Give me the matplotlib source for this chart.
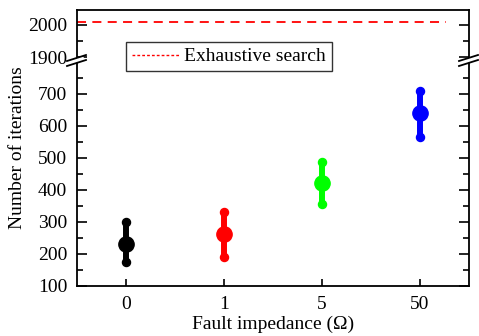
import numpy as np
import matplotlib
matplotlib.use("Agg")
import matplotlib.pyplot as plt
from matplotlib.lines import Line2D

plt.rcParams['font.family'] = ['Liberation Serif', 'DejaVu Serif']
plt.rcParams['font.size'] = 14

# data
categories = ["0", "1", "5", "50"]
means = [232, 262, 422, 640]
lows = [175, 190, 355, 567]
highs = [300, 330, 486, 708]
colors = ["black", "red", "#00ff00", "blue"]
exhaustive = 2008

x = np.arange(len(categories))

fig = plt.figure(figsize=(4.79, 3.36), dpi=100)
W, H = 479, 336
left, right = 77 / W, 469 / W
ax_lo = fig.add_axes([left, 1 - 286 / H, right - left, 224 / H])
ax_hi = fig.add_axes([left, 1 - 59 / H, right - left, 49 / H])

for ax in (ax_lo, ax_hi):
    ax.set_xlim(-0.5, 3.5)
    for s in ax.spines.values():
        s.set_linewidth(1.3)
    ax.tick_params(which='both', direction='in', width=1.2, right=True, top=False)
    ax.tick_params(which='major', length=7)
    ax.tick_params(which='minor', length=4)
    ax.tick_params(axis='y', pad=7)

ax_lo.set_ylim(100, 800)
ax_lo.set_yticks(np.arange(100, 701, 100))
ax_lo.set_yticks(np.arange(150, 800, 100), minor=True)
ax_lo.spines['top'].set_visible(False)
ax_lo.set_xticks(x)
ax_lo.set_xticklabels(categories)
ax_lo.tick_params(axis='x', length=5, pad=7)

ax_hi.set_ylim(1895, 2045)
ax_hi.set_yticks([1900, 2000])
ax_hi.set_yticks([1950], minor=True)
ax_hi.spines['bottom'].set_visible(False)
ax_hi.set_xticks([])

# error bars with dot ends
for xi, m, lo, hi, c in zip(x, means, lows, highs, colors):
    ax_lo.plot([xi, xi], [lo, hi], color=c, lw=4.3, solid_capstyle='butt', zorder=3)
    ax_lo.plot([xi, xi], [lo, hi], 'o', color=c, ms=5.8, zorder=3)
    ax_lo.plot(xi, m, 'o', color=c, ms=11, zorder=4)

# exhaustive search line
ax_hi.plot([-0.5, 3.27], [exhaustive, exhaustive], color='red', lw=1.3,
           dashes=(5, 3.5), clip_on=False)

# break marks
for x0 in (67, 459):
    fig.add_artist(plt.Polygon([[(x0 + 3) / W, 1 - 64 / H], [(x0 + 16) / W, 1 - 60 / H],
                                [(x0 + 16) / W, 1 - 57 / H], [(x0 + 3) / W, 1 - 61 / H]],
                               closed=True, color='white', transform=fig.transFigure))
    for dy in (0, 5):
        fig.add_artist(Line2D([x0 / W, (x0 + 19) / W], [1 - (61 + dy) / H, 1 - (55 + dy) / H],
                              color='black', lw=1.3))

# legend
handle = Line2D([], [], color='red', lw=1.0, dashes=(2, 1.5))
leg = fig.legend([handle], ["Exhaustive search"], loc='upper left',
                 bbox_to_anchor=(126 / W, 1 - 42 / H), frameon=True, fancybox=False,
                 borderpad=0.3, handlelength=2.4, handletextpad=0.3, borderaxespad=0)
leg.get_frame().set_edgecolor('black')
leg.get_frame().set_linewidth(1.0)

fig.text(0.5 * (left + right), 0.008, "Fault impedance (\u03a9)", ha='center', va='bottom')
fig.text(18 / W, 1 - 148 / H, "Number of iterations", rotation=90, ha='center', va='center')

fig.savefig("out.png", dpi=100)
